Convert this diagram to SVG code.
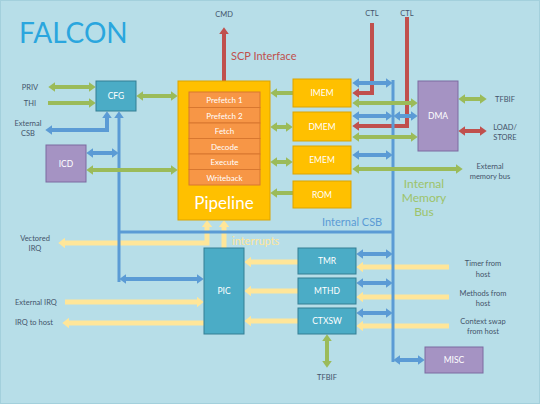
<svg xmlns="http://www.w3.org/2000/svg" width="540" height="404" viewBox="0 0 540 404">
<style>
text{font-family:Lato,"Open Sans","Liberation Sans",sans-serif}
.lbl{font-size:7.5px;fill:#44546a;text-anchor:middle}
.lbll{font-size:7.5px;fill:#44546a}
.bt{font-size:8.5px;fill:#ffffff;text-anchor:middle;dominant-baseline:central}
.st{font-size:8px;fill:#ffffff;text-anchor:middle;dominant-baseline:central}
.teal{fill:#4bacc6;stroke:#357e93;stroke-width:1}
.purp{fill:#a593c3;stroke:#7d6aa0;stroke-width:1}
.mem{fill:#ffc000;stroke:#dca400;stroke-width:1}
.stage{fill:#f79646;stroke:#d8772f;stroke-width:1}
.g{stroke:#9bbb59;stroke-width:4;fill:none;marker-start:none}
.r{stroke:#c0504d;stroke-width:4;fill:none}
.b{stroke:#5b9bd5;stroke-width:4;fill:none}
.bb{stroke:#5b9bd5;stroke-width:3;fill:none}
.y{stroke:#ffe699;stroke-width:5;fill:none}
.g.d{marker-start:url(#mg);marker-end:url(#mg)}
.g.e{marker-end:url(#mg)}
.r.d{marker-start:url(#mr);marker-end:url(#mr)}
.r.e{marker-end:url(#mr)}
.b.d,.bb.d{marker-start:url(#mb);marker-end:url(#mb)}
.b.e,.bb.e{marker-end:url(#mb)}
.y.d{marker-start:url(#my);marker-end:url(#my)}
.y.e{marker-end:url(#my)}
</style>
<defs>
<marker id="mg" viewBox="0 0 7 10" refX="0.3" refY="5" markerWidth="7" markerHeight="10" markerUnits="userSpaceOnUse" orient="auto-start-reverse"><path d="M0,0L7,5L0,10z" fill="#9bbb59"/></marker>
<marker id="mr" viewBox="0 0 7 10" refX="0.3" refY="5" markerWidth="7" markerHeight="10" markerUnits="userSpaceOnUse" orient="auto-start-reverse"><path d="M0,0L7,5L0,10z" fill="#c0504d"/></marker>
<marker id="mb" viewBox="0 0 7 10" refX="0.3" refY="5" markerWidth="7" markerHeight="10" markerUnits="userSpaceOnUse" orient="auto-start-reverse"><path d="M0,0L7,5L0,10z" fill="#5b9bd5"/></marker>
<marker id="my" viewBox="0 0 7 11" refX="0.3" refY="5.5" markerWidth="7" markerHeight="11" markerUnits="userSpaceOnUse" orient="auto-start-reverse"><path d="M0,0L7,5.5L0,11z" fill="#ffe699"/></marker>
</defs>
<rect x="0.5" y="0.5" width="539" height="403" fill="#b7dee8" stroke="#a3d0dc"/>

<g id="connectors">
<!-- yellow -->
<path class="y d" d="M207,227L207,243L65,243"/>
<path class="y e" d="M224,248L224,227"/>
<path class="y e" d="M298,262L251,262"/>
<path class="y e" d="M298,291L251,291"/>
<path class="y e" d="M298,321L251,321"/>
<path class="y e" d="M449,267L363,267"/>
<path class="y e" d="M449,297L363,297"/>
<path class="y e" d="M449,326L363,326"/>
<path class="y e" d="M65,302L197,302"/>
<path class="y e" d="M204,323L69,323"/>
<!-- red -->
<path class="r e" d="M224,81L224,34"/>
<path class="r e" d="M372,23L372,93L359,93"/>
<path class="r e" d="M407,17L407,126L359,126"/>
<path class="r d" d="M465,131L480,131"/>
<!-- blue -->
<path class="bb" d="M393,80L393,362"/>
<path class="bb" d="M119,232L393,232"/>
<path class="bb e" d="M119,282L119,118"/>
<path class="b d" d="M52,130L107,130L107,118"/>
<path class="b d" d="M93,153L112,153"/>
<path class="b d" d="M126,279L197,279"/>
<path class="b d" d="M359,83L386,83"/>
<path class="b d" d="M359,116L386,116"/>
<path class="b d" d="M400,116L411,116"/>
<path class="b d" d="M359,155L386,155"/>
<path class="b d" d="M363,254L386,254"/>
<path class="b d" d="M363,283L386,283"/>
<path class="b d" d="M363,313L386,313"/>
<path class="b d" d="M400,360L418,360"/>
<!-- green -->
<path class="g d" d="M55,87L89,87"/>
<path class="g e" d="M48,103L89,103"/>
<path class="g d" d="M143,96L171,96"/>
<path class="g d" d="M93,170L171,170"/>
<path class="g e" d="M293,93L277,93"/>
<path class="g d" d="M277,127L286,127"/>
<path class="g d" d="M277,162L286,162"/>
<path class="g e" d="M293,193L277,193"/>
<path class="g d" d="M359,103L411,103"/>
<path class="g d" d="M359,137L411,137"/>
<path class="g d" d="M359,169L456,169"/>
<path class="g d" d="M465,99L480,99"/>
<path class="g d" d="M327,341L327,361"/>
</g>

<g id="pipeline">
<rect class="mem" x="178" y="81" width="92" height="139"/>
<rect class="stage" x="189" y="92" width="71" height="15.5"/>
<rect class="stage" x="189" y="107.5" width="71" height="15.5"/>
<rect class="stage" x="189" y="123" width="71" height="15.5"/>
<rect class="stage" x="189" y="138.5" width="71" height="15.5"/>
<rect class="stage" x="189" y="154" width="71" height="15.5"/>
<rect class="stage" x="189" y="169.5" width="71" height="15.5"/>
<text class="st" x="224.5" y="100">Prefetch 1</text>
<text class="st" x="224.5" y="115.5">Prefetch 2</text>
<text class="st" x="224.5" y="131">Fetch</text>
<text class="st" x="224.5" y="146.5">Decode</text>
<text class="st" x="224.5" y="162">Execute</text>
<text class="st" x="224.5" y="177.5">Writeback</text>
<text x="224" y="209" style="font-size:17px;fill:#fff;text-anchor:middle">Pipeline</text>
</g>
<g id="cfg"><rect class="teal" x="96" y="81" width="40" height="30"/><text class="bt" x="116" y="96">CFG</text></g>
<g id="icd"><rect class="purp" x="46" y="145" width="40" height="37"/><text class="bt" x="66" y="164">ICD</text></g>
<g id="imem"><rect class="mem" x="293" y="79" width="58" height="28"/><text class="bt" x="322" y="93">IMEM</text></g>
<g id="dmem"><rect class="mem" x="293" y="112" width="58" height="29"/><text class="bt" x="322" y="127">DMEM</text></g>
<g id="ememn"><rect class="mem" x="293" y="146" width="58" height="28"/><text class="bt" x="322" y="160">EMEM</text></g>
<g id="rom"><rect class="mem" x="293" y="181" width="58" height="27"/><text class="bt" x="322" y="194.5">ROM</text></g>
<g id="dma"><rect class="purp" x="418" y="81" width="40" height="70"/><text class="bt" x="438" y="116">DMA</text></g>
<g id="pic"><rect class="teal" x="204" y="248" width="40" height="86"/><text class="bt" x="224" y="291">PIC</text></g>
<g id="tmr"><rect class="teal" x="298" y="248" width="58" height="26"/><text class="bt" x="327" y="261">TMR</text></g>
<g id="mthd"><rect class="teal" x="298" y="278" width="58" height="26"/><text class="bt" x="327" y="291">MTHD</text></g>
<g id="ctxsw"><rect class="teal" x="298" y="308" width="58" height="26"/><text class="bt" x="327" y="321">CTXSW</text></g>
<g id="misc"><rect class="purp" x="425" y="347" width="58" height="26"/><text class="bt" x="454" y="360">MISC</text></g>

<g id="labels">
<text x="19" y="43" style="font-size:28px;fill:#2aa6de">FALCON</text>
<text class="lbl" x="224" y="17">CMD</text>
<text x="231" y="60" style="font-size:11px;fill:#c0504d">SCP Interface</text>
<text class="lbl" x="372" y="16">CTL</text>
<text class="lbl" x="407" y="16">CTL</text>
<text class="lbl" x="30" y="90">PRIV</text>
<text class="lbl" x="30" y="106">THI</text>
<text class="lbl" x="28" y="126">External</text>
<text class="lbl" x="28" y="136">CSB</text>
<text class="lbl" x="505" y="102">TFBIF</text>
<text class="lbl" x="505" y="130">LOAD/</text>
<text class="lbl" x="505" y="140">STORE</text>
<text class="lbl" x="490" y="169">External</text>
<text class="lbl" x="490" y="179">memory bus</text>
<g style="font-size:12px;fill:#9dc36a;text-anchor:middle">
<text x="424" y="188">Internal</text>
<text x="424" y="202">Memory</text>
<text x="424" y="216">Bus</text>
</g>
<text x="322" y="226" style="font-size:11px;fill:#5b9bd5">Internal CSB</text>
<text x="232" y="245" style="font-size:11px;fill:#ffe699">interrupts</text>
<text class="lbl" x="35" y="241">Vectored</text>
<text class="lbl" x="35" y="251">IRQ</text>
<text class="lbll" x="15" y="305">External IRQ</text>
<text class="lbll" x="15" y="325">IRQ to host</text>
<text class="lbl" x="483" y="266">Timer from</text>
<text class="lbl" x="483" y="277">host</text>
<text class="lbl" x="483" y="296">Methods from</text>
<text class="lbl" x="483" y="306">host</text>
<text class="lbl" x="483" y="324">Context swap</text>
<text class="lbl" x="483" y="334">from host</text>
<text class="lbl" x="327" y="380">TFBIF</text>
</g>
</svg>
